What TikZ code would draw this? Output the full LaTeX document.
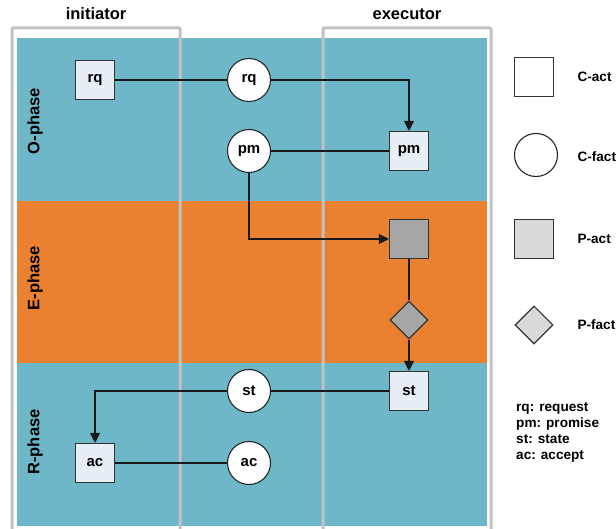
\documentclass[tikz,border=0pt]{standalone}
\usepackage{fontspec}
\setmainfont{Liberation Sans}
\usetikzlibrary{positioning,arrows.meta,shapes.geometric}
\definecolor{phaseblue}{HTML}{6DB7C8}
\definecolor{phaseorange}{HTML}{E98130}
\definecolor{framegray}{HTML}{C2C2C2}
\definecolor{actfill}{HTML}{E8EEF6}
\definecolor{pfill}{HTML}{A6A6A6}
\definecolor{legfill}{HTML}{D9D9D9}
\tikzset{
  cact/.style={draw=black!80, line width=1.1pt, fill=actfill, minimum size=39pt, inner sep=0pt, font=\fontsize{15}{15}\selectfont\bfseries},
  cfact/.style={circle, draw=black!85, line width=1.1pt, fill=white, minimum size=43pt, inner sep=0pt, font=\fontsize{15}{15}\selectfont\bfseries},
  pact/.style={cact, fill=pfill},
  pfact/.style={diamond, draw=black!80, line width=1.1pt, fill=pfill, minimum width=38pt, minimum height=38pt, inner sep=0pt},
  frame/.style={draw=framegray, line width=3pt, rounded corners=1pt},
  header/.style={font=\fontsize{16.5}{16.5}\selectfont\bfseries},
  phase/.style={rotate=90, font=\fontsize{16.5}{16.5}\selectfont\bfseries},
  legtext/.style={anchor=west, font=\fontsize{13.6}{13.6}\selectfont\bfseries},
  flow/.style={line width=1.1pt, draw=black!90},
}
\begin{document}
\begin{tikzpicture}[x=1pt,y=-1pt,on grid,>={Triangle[length=10pt,width=10pt]}]
   \useasboundingbox (0,0) rectangle (616,529);

   % phases
   \fill[phaseblue] (17,38) rectangle (487,201);
   \fill[phaseorange] (17,201) rectangle (487,363);
   \fill[phaseblue] (17,363) rectangle (487,526);

   % actor roles
   \draw[frame] (12,529) -- (12,28) -- (180,28) -- (180,529);
   \draw[frame] (323,529) -- (323,28) -- (491,28) -- (491,529);
   \node[header] (init) at (96,14) {initiator};
   \node[header] (exec) at (407,14) {executor};

   \node[phase] (ophase) at (35,121) {O-phase};
   \node[phase] (ephase) at (35,278) {E-phase};
   \node[phase] (rphase) at (35,442) {R-phase};

   \node[cact] (rqact) at (95,80) {rq};
   \node[cfact] (rqfact) [right=154pt of rqact] {rq};
   \node[cfact] (pmfact) [below=71pt of rqfact] {pm};
   \node[cact] (pmact) [right=160pt of pmfact] {pm};
   \node[pact] (exact) [below=88pt of pmact] {};
   \node[pfact] (exfact) [below=81pt of exact] {};
   \node[cact] (stact) [below=71pt of exfact] {st};
   \node[cfact] (stfact) [left=160pt of stact] {st};
   \node[cfact] (acfact) [below=72pt of stfact] {ac};
   \node[cact] (acact) [left=154pt of acfact] {ac};

   \draw[flow,->] (rqact) -- (rqfact) -| (pmact);
   \draw[flow] (pmfact) -- (pmact);
   \draw[flow,->] (pmfact) |- (exact);
   \draw[flow] (exact) -- (exfact);
   \draw[flow,->] (exfact) -- (stact);
   \draw[flow,->] (stact) -- (stfact) -| (acact);
   \draw[flow] (acact) -- (acfact);

   % legend
   \node[cact, fill=white] (lgcact) at (534,77) {};
   \node[legtext] at (574,77) {C-act};
   \node[cfact] (lgcfact) at (536,155) {};
   \node[legtext] at (574,157) {C-fact};
   \node[pact, fill=legfill] (lgpact) at (534,239) {};
   \node[legtext] at (574,239) {P-act};
   \node[pfact, fill=legfill] (lgpfact) at (534,325) {};
   \node[legtext] at (574,325) {P-fact};
   \node[anchor=north west, align=left, inner sep=0pt, font=\fontsize{13.6}{16.2}\selectfont\bfseries] (abbr) at (516,402)
      {rq: request\\pm: promise\\st: state\\ac: accept};
\end{tikzpicture}
\end{document}
